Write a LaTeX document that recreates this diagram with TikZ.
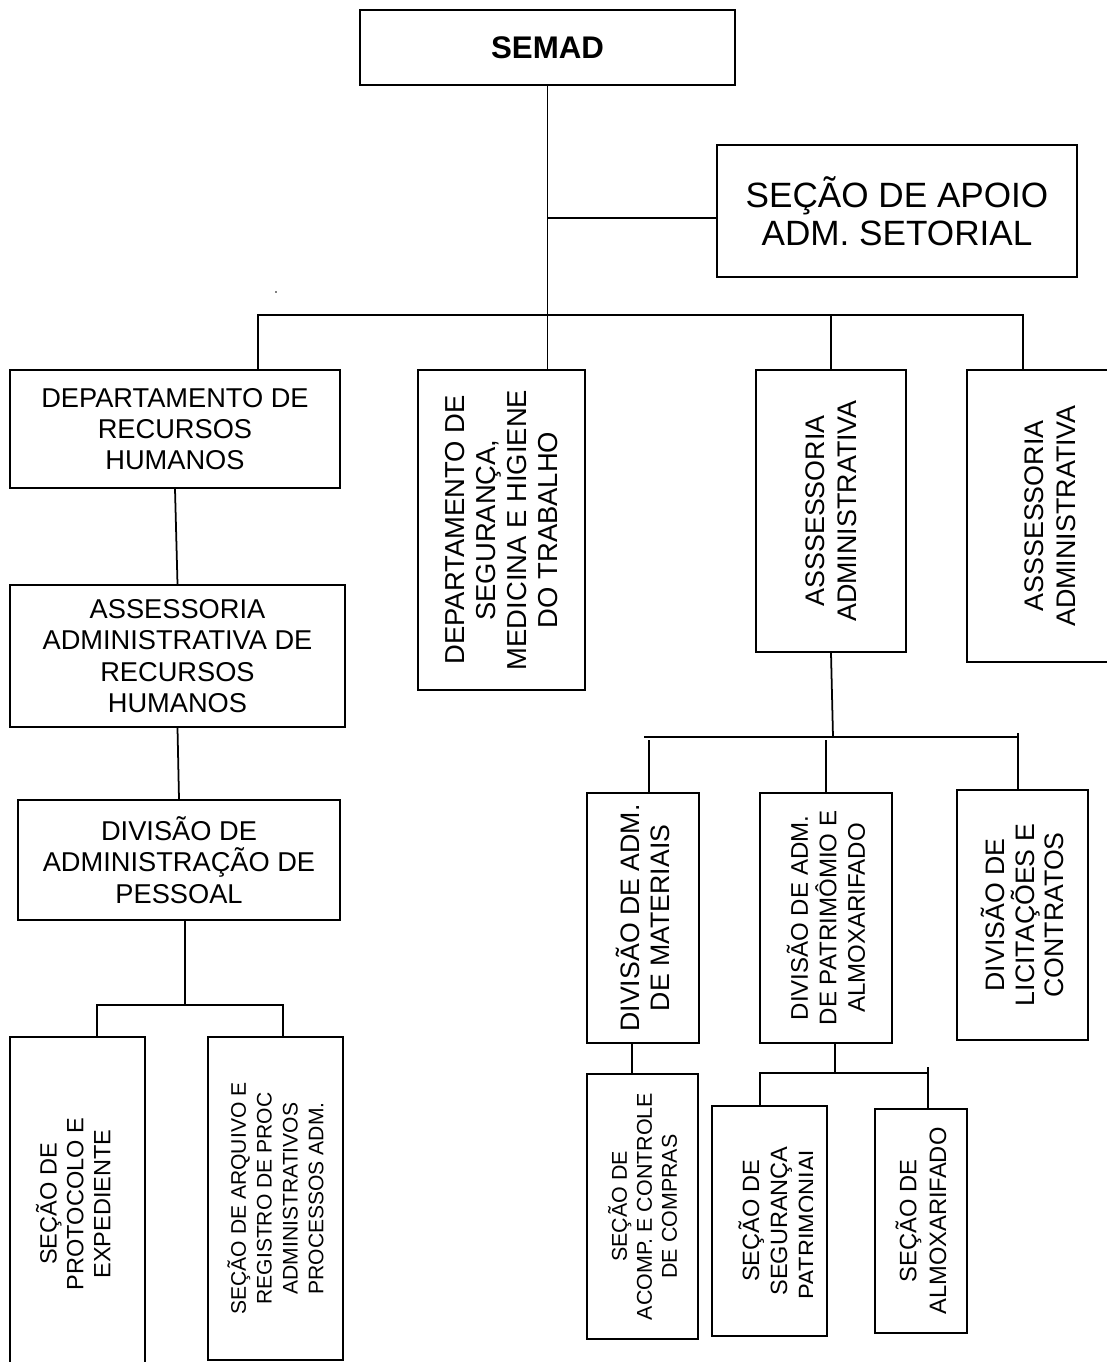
\documentclass[tikz,border=0pt]{standalone}
\usepackage{fontspec}
\setmainfont{Liberation Sans}

\tikzset{
  box/.style={draw,line width=1pt,inner sep=0pt,align=center,font=\fontsize{15.5}{17.8}\selectfont},
  vtext/.style={rotate=90,align=center,inner sep=0pt},
  link/.style={line width=1pt},
}

\begin{document}
\begin{tikzpicture}[x=0.02cm,y=-0.02cm,line cap=rect]
\useasboundingbox (0,0) rectangle (1106,1362);
% top
\node[box,minimum width=7.5cm,minimum height=1.5cm,font=\bfseries\fontsize{17.8}{20}\selectfont] (semad) at (547.5,47.5) {SEMAD};
\node[box,minimum width=7.2cm,minimum height=2.64cm,font=\fontsize{20}{21.5}\selectfont] (apoio) at (897,211) {SEÇÃO DE APOIO\\ADM. SETORIAL};
% second row
\node[box,minimum width=6.6cm,minimum height=2.36cm] (drh) at (175,429) {DEPARTAMENTO DE\\RECURSOS\\HUMANOS};
\node[box,minimum width=3.34cm,minimum height=6.4cm] (dsmht) at (501.5,530) {};
\node[vtext,font=\fontsize{15.6}{17.8}\selectfont] (dsmht-t) at (dsmht.center) {DEPARTAMENTO DE\\SEGURANÇA,\\MEDICINA E HIGIENE\\DO TRABALHO};
\node[box,minimum width=3cm,minimum height=5.64cm] (assadm1) at (831,511) {};
\node[vtext,font=\fontsize{15.3}{18}\selectfont] (assadm1-t) at (assadm1.center) {ASSSESSORIA\\ADMINISTRATIVA};
\node[box,minimum width=3.32cm,minimum height=5.84cm] (assadm2) at (1050,516) {};
\node[vtext,font=\fontsize{15.3}{18}\selectfont] (assadm2-t) at (assadm2.center) {ASSSESSORIA\\ADMINISTRATIVA};
% recursos humanos
\node[box,minimum width=6.7cm,minimum height=2.84cm] (arh) at (177.5,656) {ASSESSORIA\\ADMINISTRATIVA DE\\RECURSOS\\HUMANOS};
\node[box,minimum width=6.44cm,minimum height=2.4cm] (dap) at (179,860) {DIVISÃO DE\\ADMINISTRAÇÃO DE\\PESSOAL};
\node[box,minimum width=2.7cm,minimum height=6.68cm] (protocolo) at (77.5,1204) {};
\node[vtext,font=\fontsize{13.4}{15.3}\selectfont] (protocolo-t) at ([xshift=-2.5pt]protocolo.center) {SEÇÃO DE\\PROTOCOLO E\\EXPEDIENTE};
\node[box,minimum width=2.7cm,minimum height=6.46cm] (arquivo) at (275.5,1198.5) {};
\node[vtext,font=\fontsize{12}{14.7}\selectfont] (arquivo-t) at (arquivo.center) {SEÇÃO DE ARQUIVO E\\REGISTRO DE PROC\\ADMINISTRATIVOS\\PROCESSOS ADM.};
% divisoes
\node[box,minimum width=2.24cm,minimum height=5cm] (materiais) at (643,918) {};
\node[vtext,font=\fontsize{15.2}{17}\selectfont] (materiais-t) at (materiais.center) {DIVISÃO DE ADM.\\DE MATERIAIS};
\node[box,minimum width=2.64cm,minimum height=5cm] (patrimonio) at (826,918) {};
\node[vtext,font=\fontsize{13.7}{16.2}\selectfont] (patrimonio-t) at (patrimonio.center) {DIVISÃO DE ADM.\\DE PATRIMÔMIO E\\ALMOXARIFADO};
\node[box,minimum width=2.62cm,minimum height=5cm] (licitacoes) at (1022.5,915) {};
\node[vtext,font=\fontsize{15.2}{17}\selectfont] (licitacoes-t) at (licitacoes.center) {DIVISÃO DE\\LICITAÇÕES E\\CONTRATOS};
% secoes
\node[box,minimum width=2.22cm,minimum height=5.3cm] (acomp) at (642.5,1206.5) {};
\node[vtext,font=\fontsize{12.2}{14.2}\selectfont] (acomp-t) at (acomp.center) {SEÇÃO DE\\ACOMP. E CONTROLE\\DE COMPRAS};
\node[box,minimum width=2.3cm,minimum height=4.6cm] (seguranca) at (769.5,1221) {};
\begin{scope}
\clip (712,1106) rectangle (812,1336);
\node[vtext,font=\fontsize{13.4}{15.9}\selectfont] (seguranca-t) at ([xshift=4.2pt]seguranca.center) {SEÇÃO DE\\SEGURANÇA\\PATRIMONIAL};
\end{scope}
\node[box,minimum width=1.84cm,minimum height=4.48cm] (almox) at (921,1221) {};
\node[vtext,font=\fontsize{13.5}{17}\selectfont] (almox-t) at (almox.center) {SEÇÃO DE\\ALMOXARIFADO};

% connectors
\coordinate (apoioJ) at (547.5,218);
\coordinate (busL) at (258,315);
\coordinate (busR) at (1023,315);
\draw[link] (semad.south) -- (semad.south |- dsmht.north);
\draw[link] (apoioJ) -- (apoioJ -| apoio.west);
\draw[link] (busL) -- (busR);
\draw[link] (busL) -- (busL |- drh.north);
\draw[link] (busL -| assadm1.north) -- (assadm1.north);
\draw[link] (busR) -- (busR |- assadm2.north);
\fill (276,292) circle (0.5pt);

\coordinate (dapJ) at (185,1005);
\coordinate (dapL) at (97,1005);
\coordinate (dapR) at (283,1005);
\draw[link] (drh.south) -- (arh.north);
\draw[link] (arh.south) -- (dap.north);
\draw[link] (dapJ |- dap.south) -- (dapJ);
\draw[link] (dapL) -- (dapR);
\draw[link] (dapL) -- (dapL |- protocolo.north);
\draw[link] (dapR) -- (dapR |- arquivo.north);

\coordinate (divJ) at (833,737);
\coordinate (divL) at (645,737);
\coordinate (divR) at (1018,737);
\coordinate (divA) at (649,741);
\draw[link] (assadm1.south) -- (divJ);
\draw[link] (divL) -- (divR);
\draw[link] (divA) -- (divA |- materiais.north);
\draw[link] (patrimonio.north |- divA) -- (patrimonio.north);
\draw[link] ([yshift=2pt]divR) -- (divR |- licitacoes.north);

\coordinate (acompJ) at (632,1074);
\coordinate (patJ) at (835,1073);
\coordinate (secL) at (760,1073);
\coordinate (secR) at (928,1073);
\draw[link] (acompJ |- materiais.south) -- (acompJ);
\draw[link] (patJ |- patrimonio.south) -- (patJ);
\draw[link] (secL) -- (secR);
\draw[link] (secL) -- (secL |- seguranca.north);
\draw[link] ([yshift=3pt]secR) -- (secR |- almox.north);
\end{tikzpicture}
\end{document}
